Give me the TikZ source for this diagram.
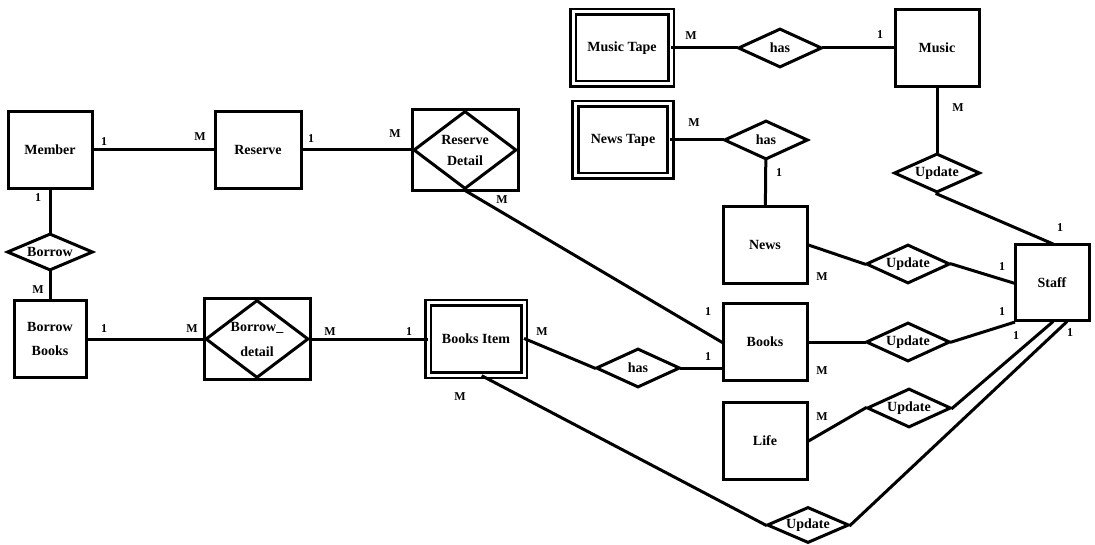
\documentclass[tikz,border=0pt]{standalone}
\usepackage{fontspec}
\setmainfont{Liberation Serif}
\usetikzlibrary{shapes.geometric}

\begin{document}
\begin{tikzpicture}[x=1pt,y=-1pt,line cap=rect,
	entity/.style={draw, rectangle, line width=3pt, minimum width=84, minimum height=77, inner sep=0, align=center, font=\bfseries\fontsize{14}{24}\selectfont},
	weak/.style={entity, double, line width=2.8pt, double distance=3pt, minimum width=96, minimum height=72},
	rel/.style={draw, diamond, aspect=2, line width=3pt, minimum width=84, minimum height=39, inner sep=0, align=center, font=\bfseries\fontsize{14}{21}\selectfont},
	assoc/.style={rel, aspect=1.3, minimum width=103, minimum height=78},
	card/.style={inner sep=0, font=\bfseries\fontsize{12}{12}\selectfont},
	link/.style={line width=3pt}]
	\useasboundingbox (0,0) rectangle (1095,545);
	% entities
	\node[entity] (member) at (50,150) {Member};
	\node[entity, minimum width=86] (reserve) at (258,150) {Reserve};
	\node[entity, minimum width=72] (bb) at (50,339) {Borrow\\Books};
	\node[weak] (bi) at (476,339) {Books Item};
	\node[entity] (books) at (765,342) {Books};
	\node[entity] (news) at (765,245) {News};
	\node[entity] (life) at (765,441) {Life};
	\node[entity, minimum width=74, minimum height=76] (staff) at (1052,283) {Staff};
	\node[entity] (music) at (937,48) {Music};
	\node[weak, minimum width=98] (musictape) at (622,48) {Music Tape};
	\node[weak, minimum width=95] (newstape) at (623,140) {News Tape};
	% associative entities
	\node[assoc] (rd) at (465,150) {Reserve\\Detail};
	\draw[line width=3pt] (rd.west |- rd.north) rectangle (rd.east |- rd.south);
	\node[assoc] (bd) at (257,339) {Borrow\_\\[4pt]detail};
	\draw[line width=3pt] (bd.west |- bd.north) rectangle (bd.east |- bd.south);
	% relationships
	\node[rel, minimum width=86, minimum height=37] (borrow) at (50,252) {Borrow};
	\node[rel] (hasb) at (638,368) {has};
	\node[rel] (hasm) at (780,48) {has};
	\node[rel] (hasn) at (766,140) {has};
	\node[rel, minimum width=86] (updmusic) at (937,173) {Update};
	\node[rel] (updnews) at (908,264) {Update};
	\node[rel] (updbooks) at (908,342) {Update};
	\node[rel] (updlife) at (909,408) {Update};
	\node[rel, minimum width=82, minimum height=36] (updbi) at (808,525) {Update};
	% connectors
	\draw[link] (member) -- (reserve);
	\draw[link] (reserve.east) -- (rd.west);
	\draw[link] (member) -- (borrow);
	\draw[link] (borrow) -- (bb);
	\draw[link] (bb) -- (bd.west);
	\draw[link] (bd.east) -- (bi);
	\draw[link] (rd.south) -- (books.west);
	\draw[link] (bi.east) -- (hasb.west);
	\draw[link] (hasb.east) -- (hasb.east -| books.west);
	\draw[link] ([xshift=7]bi.south) -- (updbi.west);
	\draw[link] (updbi.east) -- ([xshift=14]staff.south);
	\draw[link] (musictape) -- (hasm);
	\draw[link] (hasm) -- (music);
	\draw[link] (music) -- (updmusic);
	\draw[link] (updmusic.south) -- (staff.north);
	\draw[link] (newstape) -- (hasn);
	\draw[link] (hasn) -- (news);
	\draw[link] (news.east) -- (updnews.west);
	\draw[link] (updnews.east) -- (staff.west);
	\draw[link] (books) -- (updbooks);
	\draw[link] (updbooks.east) -- (staff.south west);
	\draw[link] (life.east) -- (updlife.west);
	\draw[link] (updlife.east) -- (staff.south);
	% cardinalities
	\foreach \x/\y/\lab [count=\i] in {104/142/1, 200/137/M, 311/139/1, 395/134/M, 38/198/1, 38/290/M,
		104/329/1, 192/329/M, 330/332/M, 409/332/1, 542/332/M, 460/397/M, 502/200/M, 708/312/1,
		708/357/1, 691/36/M, 880/35/1, 694/123/M, 779/173/1, 958/108/M, 1060/228/1, 822/277/M,
		1002/267/1, 1002/312/1, 822/371/M, 822/417/M, 1016/336/1, 1070/333/1}
		\node[card] (card\i) at (\x,\y) {\lab};
\end{tikzpicture}
\end{document}
